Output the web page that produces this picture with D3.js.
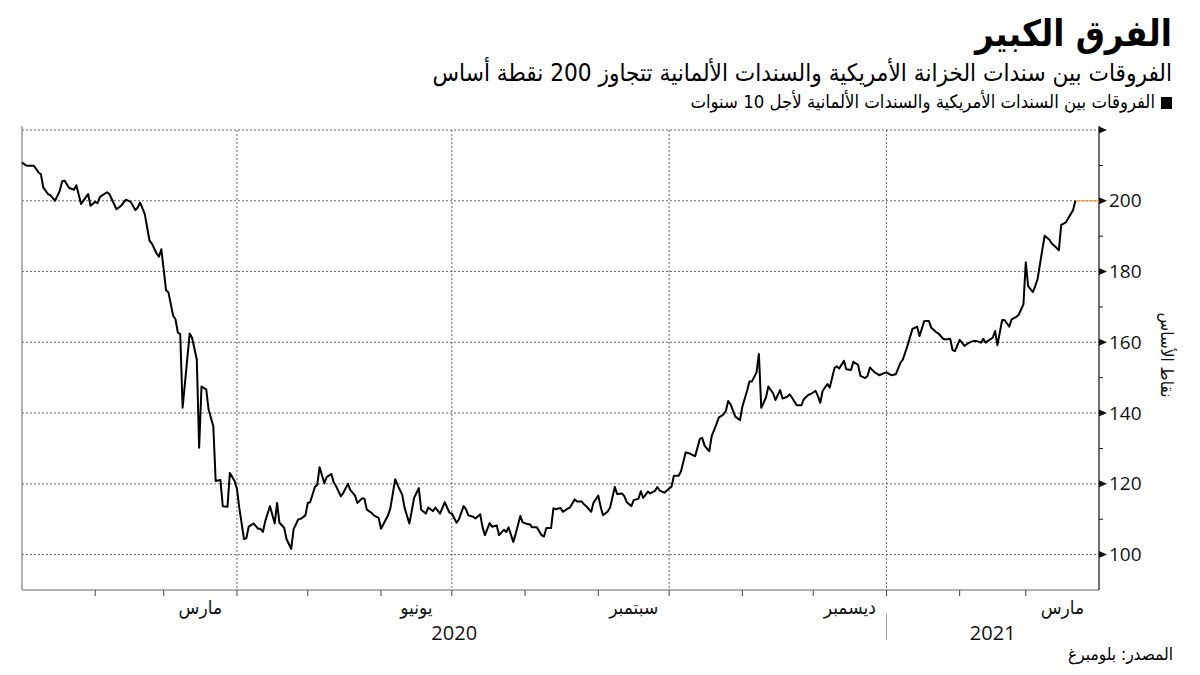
<!DOCTYPE html>
<html><head><meta charset="utf-8">
<script src="https://cdn.jsdelivr.net/npm/d3@7"></script>
<style>body{margin:0;background:#fff} svg{display:block}</style>
</head><body><svg id="c" width="1200" height="675"></svg>
<script>
const dates = [
"2020-01-01","2020-01-03","2020-01-06","2020-01-07","2020-01-08","2020-01-09","2020-01-10","2020-01-12","2020-01-13","2020-01-15",
"2020-01-17","2020-01-18","2020-01-19","2020-01-21","2020-01-23","2020-01-24","2020-01-26","2020-01-29","2020-01-30","2020-02-01",
"2020-02-02","2020-02-03","2020-02-06","2020-02-07","2020-02-10","2020-02-12","2020-02-14","2020-02-16","2020-02-18","2020-02-19",
"2020-02-20","2020-02-22","2020-02-24","2020-02-25","2020-02-27","2020-02-28","2020-02-29","2020-03-02","2020-03-03","2020-03-05",
"2020-03-06","2020-03-07","2020-03-08","2020-03-09","2020-03-12","2020-03-13","2020-03-15","2020-03-16","2020-03-17","2020-03-19",
"2020-03-20","2020-03-22","2020-03-23","2020-03-25","2020-03-26","2020-03-28","2020-03-29","2020-03-31","2020-04-01","2020-04-02",
"2020-04-04","2020-04-05","2020-04-06","2020-04-08","2020-04-10","2020-04-11","2020-04-12","2020-04-13","2020-04-15","2020-04-17",
"2020-04-18","2020-04-19","2020-04-21","2020-04-22","2020-04-24","2020-04-25","2020-04-27","2020-04-28","2020-04-30","2020-05-01",
"2020-05-02","2020-05-04","2020-05-05","2020-05-06","2020-05-08","2020-05-09","2020-05-11","2020-05-12","2020-05-13","2020-05-15",
"2020-05-16","2020-05-18","2020-05-19","2020-05-21","2020-05-22","2020-05-24","2020-05-25","2020-05-26","2020-05-28","2020-05-29",
"2020-05-31","2020-06-01","2020-06-02","2020-06-04","2020-06-05","2020-06-07","2020-06-08","2020-06-10","2020-06-11","2020-06-13",
"2020-06-14","2020-06-15","2020-06-17","2020-06-18","2020-06-20","2020-06-21","2020-06-23","2020-06-24","2020-06-26","2020-06-28",
"2020-06-30","2020-07-01","2020-07-03","2020-07-04","2020-07-06","2020-07-07","2020-07-08","2020-07-10","2020-07-11","2020-07-13",
"2020-07-14","2020-07-15","2020-07-17","2020-07-18","2020-07-20","2020-07-21","2020-07-23","2020-07-24","2020-07-25","2020-07-27",
"2020-07-28","2020-07-30","2020-07-31","2020-08-02","2020-08-03","2020-08-04","2020-08-06","2020-08-08","2020-08-09","2020-08-10",
"2020-08-12","2020-08-13","2020-08-14","2020-08-16","2020-08-17","2020-08-19","2020-08-20","2020-08-22","2020-08-23","2020-08-25",
"2020-08-26","2020-08-27","2020-08-29","2020-08-30","2020-09-01","2020-09-02","2020-09-03","2020-09-05","2020-09-06","2020-09-08",
"2020-09-09","2020-09-11","2020-09-12","2020-09-13","2020-09-15","2020-09-16","2020-09-18","2020-09-19","2020-09-20","2020-09-22",
"2020-09-23","2020-09-25","2020-09-26","2020-09-27","2020-09-29","2020-09-30","2020-10-02","2020-10-03","2020-10-05","2020-10-06",
"2020-10-08","2020-10-10","2020-10-12","2020-10-14","2020-10-15","2020-10-16","2020-10-18","2020-10-19","2020-10-21","2020-10-22",
"2020-10-24","2020-10-25","2020-10-26","2020-10-27","2020-10-29","2020-10-31","2020-11-01","2020-11-03","2020-11-04","2020-11-05",
"2020-11-07","2020-11-08","2020-11-09","2020-11-11","2020-11-12","2020-11-14","2020-11-15","2020-11-17","2020-11-18","2020-11-20",
"2020-11-21","2020-11-22","2020-11-24","2020-11-26","2020-11-27","2020-11-29","2020-11-30","2020-12-02","2020-12-03","2020-12-04",
"2020-12-05","2020-12-07","2020-12-08","2020-12-10","2020-12-11","2020-12-12","2020-12-14","2020-12-15","2020-12-17","2020-12-18",
"2020-12-20","2020-12-21","2020-12-23","2020-12-24","2020-12-25","2020-12-27","2020-12-29","2020-12-31","2021-01-01","2021-01-03",
"2021-01-05","2021-01-07","2021-01-08","2021-01-10","2021-01-12","2021-01-14","2021-01-15","2021-01-17","2021-01-19","2021-01-20",
"2021-01-22","2021-01-23","2021-01-25","2021-01-26","2021-01-28","2021-01-29","2021-01-30","2021-02-01","2021-02-02","2021-02-03",
"2021-02-05","2021-02-07","2021-02-08","2021-02-10","2021-02-11","2021-02-12","2021-02-13","2021-02-15","2021-02-16","2021-02-17",
"2021-02-19","2021-02-20","2021-02-22","2021-02-23","2021-02-25","2021-02-26","2021-02-28","2021-03-01","2021-03-02","2021-03-04",
"2021-03-05","2021-03-06","2021-03-08","2021-03-09","2021-03-11","2021-03-12","2021-03-14","2021-03-15","2021-03-16","2021-03-18",
"2021-03-19","2021-03-21","2021-03-22"
];
const values = [
210.8,209.9,209.9,209.0,208.0,207.5,203.8,201.9,201.6,200.0,
202.8,205.5,205.7,203.6,203.1,204.4,199.1,201.9,198.6,199.7,
199.3,201.1,202.4,201.9,197.6,198.6,200.3,199.7,197.4,198.1,
199.5,196.2,188.7,187.9,185.1,184.2,186.3,174.7,174.1,167.5,
166.5,162.7,162.3,141.5,162.5,161.3,155.2,130.2,147.5,146.7,
141.0,136.3,120.8,121.1,113.7,113.5,123.1,120.8,118.6,113.2,
104.4,104.7,107.9,108.8,107.3,107.3,106.4,109.5,113.7,108.8,
114.6,109.0,107.6,104.4,101.6,107.2,110.0,110.1,111.1,114.6,
114.8,119.1,119.7,124.7,120.2,121.9,122.8,120.4,119.3,116.5,
117.4,120.0,118.3,116.7,114.6,115.9,115.8,112.7,111.8,111.1,
110.4,107.3,108.6,111.1,113.2,121.3,119.7,116.9,113.2,108.8,
112.3,116.0,118.8,112.7,111.6,113.3,112.3,113.3,111.6,114.8,
111.8,111.6,109.0,110.0,113.7,112.8,111.1,110.7,110.2,111.4,
107.7,105.5,108.9,107.9,108.2,105.5,107.0,106.4,107.7,103.6,
105.8,110.9,109.1,108.6,108.6,107.7,107.7,105.5,105.1,107.5,
107.5,113.1,112.8,113.2,112.1,113.0,113.3,115.6,115.0,115.0,
114.2,113.6,112.1,114.7,116.7,113.5,111.1,112.2,113.3,119.1,
117.1,117.3,116.5,114.9,113.7,115.4,115.8,117.9,116.0,117.8,
117.3,118.0,119.1,118.1,117.5,118.1,119.2,122.3,122.3,123.5,
128.9,128.5,127.8,132.7,133.0,130.8,129.2,133.5,136.8,138.7,
139.6,140.6,143.4,142.5,139.0,138.0,141.8,146.3,148.9,148.9,
151.5,156.7,141.5,144.4,147.5,145.6,143.7,146.5,144.1,144.6,
145.3,144.4,142.2,142.2,143.9,145.2,145.4,146.3,144.8,142.9,
146.3,148.2,147.2,152.7,153.2,152.6,154.8,152.4,152.2,154.5,
153.6,150.5,149.9,150.5,152.9,151.5,150.7,151.3,151.5,150.7,
151.0,154.3,155.2,159.2,163.8,164.4,161.8,166.0,166.0,164.1,
162.9,162.5,161.0,160.8,161.0,157.8,157.5,160.7,159.9,159.0,
159.9,160.4,160.4,159.9,161.0,159.9,160.4,161.3,163.2,159.2,
166.3,166.3,164.4,166.5,167.2,167.8,170.7,182.6,175.9,174.2,
175.9,177.9,186.2,190.1,189.0,187.9,186.7,186.0,193.2,193.9,
195.1,197.3,200.0
];
const yTickValues = [100, 120, 140, 160, 180, 200, 220];
const yMinorValues = [110, 130, 150, 170, 190, 210];
const labelMonths = ["2020-03-01", "2020-06-01", "2020-09-01", "2020-12-01", "2021-03-01"];
const labelNames = ["مارس", "يونيو", "سبتمبر", "ديسمبر", "مارس"];
const yearNames = ["2020", "2021"];
const titleText = "الفرق الكبير";
const subtitleText = "الفروقات بين سندات الخزانة الأمريكية والسندات الألمانية تتجاوز 200 نقطة أساس";
const legendText = "الفروقات بين السندات الأمريكية والسندات الألمانية لأجل 10 سنوات";
const yTitle = "نقاط الأساس";
const sourceText = "المصدر: بلومبرغ";

const parse = d3.timeParse("%Y-%m-%d");
const data = dates.map((d, i) => ({date: parse(d), value: values[i]}));

const svg = d3.select("#c");
svg.append("rect").attr("width", 1200).attr("height", 675).attr("fill", "#fff");

const pL = 22, pR = 1099, pT = 130, pB = 590;
const start = parse("2020-01-01"), end = parse("2021-04-01");
const x = d3.scaleTime().domain([start, end]).range([pL, pR]);
const y = d3.scaleLinear().domain([90, 220]).range([pB, pT]);

const AR = "'DejaVu Sans Condensed', 'DejaVu Sans', sans-serif";
const NUM = "'Open Sans', 'DejaVu Sans', sans-serif";

// horizontal gridlines
svg.append("g").selectAll("line").data(yTickValues).join("line")
  .attr("x1", pL).attr("x2", pR)
  .attr("y1", d => y(d)).attr("y2", d => y(d))
  .attr("stroke", "#666").attr("stroke-width", 1).attr("stroke-dasharray", "2,2");

// vertical gridlines (quarter boundaries)
const gridDates = labelMonths.slice(0, 4).map(m => d3.timeMonth.offset(parse(m), 1));
svg.append("g").selectAll("line").data(gridDates).join("line")
  .attr("x1", d => x(d)).attr("x2", d => x(d))
  .attr("y1", pT).attr("y2", pB)
  .attr("stroke", "#666").attr("stroke-width", 1).attr("stroke-dasharray", "2,2");

// left & bottom frame
svg.append("line").attr("x1", pL).attr("x2", pL).attr("y1", pT - 4).attr("y2", pB)
  .attr("stroke", "#999").attr("stroke-width", 1.5);
svg.append("line").attr("x1", pL).attr("x2", pR).attr("y1", pB).attr("y2", pB)
  .attr("stroke", "#999").attr("stroke-width", 1.5);

// month ticks
const months = d3.timeMonth.range(d3.timeMonth.offset(start, 1), end);
svg.append("g").selectAll("line").data(months).join("line")
  .attr("x1", d => x(d)).attr("x2", d => x(d))
  .attr("y1", pB).attr("y2", pB + 6)
  .attr("stroke", "#444").attr("stroke-width", 1);

// month labels centred on the month
svg.append("g").selectAll("text").data(labelMonths).join("text")
  .attr("x", d => { const s = parse(d); return (x(s) + x(d3.timeMonth.offset(s, 1))) / 2; })
  .attr("y", 614)
  .attr("text-anchor", "middle")
  .attr("font-family", AR).attr("font-size", 19).attr("fill", "#111")
  .text((d, i) => labelNames[i]);

// year separator and labels
const yearStarts = [start, parse("2021-01-01"), end];
svg.append("line").attr("x1", x(yearStarts[1])).attr("x2", x(yearStarts[1]))
  .attr("y1", 614).attr("y2", 640).attr("stroke", "#999").attr("stroke-width", 1);
svg.append("g").selectAll("text").data(yearNames).join("text")
  .attr("x", (d, i) => (x(yearStarts[i]) + x(yearStarts[i + 1])) / 2)
  .attr("y", 640).attr("text-anchor", "middle")
  .attr("font-family", NUM).attr("font-size", 20).attr("fill", "#111")
  .text(d => d);

// right axis
svg.append("line").attr("x1", pR).attr("x2", pR).attr("y1", pT - 4).attr("y2", pB)
  .attr("stroke", "#111").attr("stroke-width", 1.2);
svg.append("g").selectAll("path").data(yTickValues).join("path")
  .attr("d", d => `M${pR},${y(d) - 3.5}L${pR + 8},${y(d)}L${pR},${y(d) + 3.5}Z`)
  .attr("fill", "#111");
svg.append("g").selectAll("line").data(yMinorValues).join("line")
  .attr("x1", pR).attr("x2", pR + 4)
  .attr("y1", d => y(d)).attr("y2", d => y(d))
  .attr("stroke", "#111").attr("stroke-width", 1);
svg.append("g").selectAll("text").data(yTickValues.filter(v => v <= 200)).join("text")
  .attr("x", pR + 10).attr("y", d => y(d)).attr("dy", "0.35em")
  .attr("font-family", NUM).attr("font-size", 19).attr("fill", "#111")
  .text(d => d);
svg.append("text")
  .attr("transform", `translate(1161,${(pT + pB) / 2 - 5}) rotate(90)`)
  .attr("text-anchor", "middle")
  .attr("font-family", AR).attr("font-size", 17).attr("fill", "#111")
  .text(yTitle);

// last value marker line
const last = data[data.length - 1];
svg.append("line").attr("x1", x(last.date)).attr("x2", pR)
  .attr("y1", y(last.value)).attr("y2", y(last.value))
  .attr("stroke", "#f29a2e").attr("stroke-width", 1.2);

// data line
svg.append("path").datum(data)
  .attr("d", d3.line().x(d => x(d.date)).y(d => y(d.value)))
  .attr("fill", "none").attr("stroke", "#000").attr("stroke-width", 2)
  .attr("stroke-linejoin", "round");

// titles: font size chosen so the text spans the wanted width
function fitSize(sel, w, base) {
  const len = sel.node().getComputedTextLength();
  sel.attr("font-size", (base * w / len).toFixed(2));
}
svg.append("text").attr("x", 1172).attr("y", 46).attr("text-anchor", "end")
  .attr("font-family", AR).attr("font-weight", "bold").attr("font-size", 38).attr("fill", "#000")
  .text(titleText).call(fitSize, 197, 38);
svg.append("text").attr("x", 1172).attr("y", 81).attr("text-anchor", "end")
  .attr("font-family", AR).attr("font-size", 24).attr("fill", "#000")
  .text(subtitleText).call(fitSize, 740, 24);
svg.append("rect").attr("x", 1161).attr("y", 97).attr("width", 11).attr("height", 12).attr("fill", "#000");
svg.append("text").attr("x", 1155).attr("y", 108).attr("text-anchor", "end")
  .attr("font-family", AR).attr("font-size", 16).attr("fill", "#000")
  .text(legendText).call(fitSize, 465, 16);
svg.append("text").attr("x", 1173).attr("y", 660).attr("text-anchor", "end")
  .attr("font-family", AR).attr("font-size", 16).attr("fill", "#000")
  .text(sourceText).call(fitSize, 105, 16);
</script></body></html>
